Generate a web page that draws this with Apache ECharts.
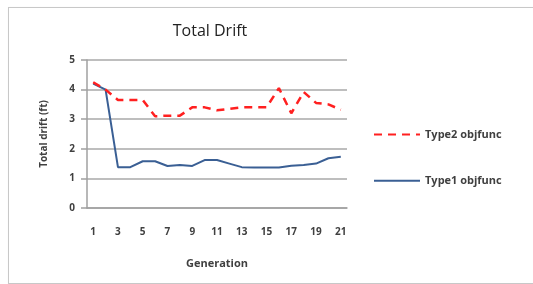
<!DOCTYPE html>
<html>
<head>
<meta charset="utf-8">
<script src="https://cdn.jsdelivr.net/npm/echarts@6/dist/echarts.min.js"></script>
<style>
	html, body {
		margin: 0;
		padding: 0;
		background: #fff;
	}
	.frame {
		position: absolute;
		left: 8px;
		top: 7px;
		width: 540px;
		height: 275px;
		border: 1px solid #c8c8c8;
		box-shadow: 1px 1px 2px rgba(0,0,0,0.15);
	}
	#chart {
		position: absolute;
		left: 0;
		top: 0;
		width: 533px;
		height: 284px;
	}
</style>
</head>
<body>
<div class="frame"></div>
<div id="chart"></div>
<script>
	const generations = ['1', '2', '3', '4', '5', '6', '7', '8', '9', '10', '11',
		'12', '13', '14', '15', '16', '17', '18', '19', '20', '21'];
	const type2Drift = [4.25, 4.0, 3.65, 3.65, 3.65, 3.1, 3.12, 3.12, 3.4, 3.4, 3.3,
		3.35, 3.4, 3.4, 3.4, 4.05, 3.2, 3.92, 3.55, 3.5, 3.32];
	const type1Drift = [4.2, 4.0, 1.38, 1.38, 1.58, 1.58, 1.42, 1.45, 1.42, 1.62, 1.62,
		1.5, 1.38, 1.37, 1.37, 1.37, 1.43, 1.45, 1.5, 1.68, 1.73];
	const yTicks = [0, 1, 2, 3, 4, 5];

	const labelFont = 'Open Sans, Liberation Sans, sans-serif';
	const chart = echarts.init(document.getElementById('chart'));
	chart.setOption({
		animation: false,
		title: {
			text: 'Total Drift',
			left: 205,
			top: 18,
			textAlign: 'center',
			textStyle: {
				fontFamily: labelFont,
				fontSize: 16,
				fontWeight: 'normal',
				color: '#222'
			}
		},
		legend: {
			orient: 'vertical',
			left: 368,
			top: 124,
			itemGap: 35,
			itemWidth: 46,
			itemHeight: 14,
			itemStyle: { opacity: 0 },
			textStyle: {
				fontFamily: labelFont,
				fontSize: 11,
				fontWeight: 'bold',
				color: '#404040'
			},
			data: ['Type2 objfunc', 'Type1 objfunc']
		},
		grid: {
			left: 87,
			right: 186,
			top: 60,
			bottom: 76
		},
		xAxis: {
			type: 'category',
			data: generations,
			boundaryGap: true,
			name: 'Generation',
			nameLocation: 'middle',
			nameGap: 50,
			nameTextStyle: {
				fontFamily: labelFont,
				fontSize: 11,
				fontWeight: 'bold',
				color: '#404040'
			},
			axisLine: { lineStyle: { color: '#a0a0a0', width: 1.5 } },
			axisTick: { show: false },
			axisLabel: {
				interval: 1,
				margin: 19,
				fontFamily: labelFont,
				fontSize: 10,
				fontWeight: 'bold',
				color: '#404040'
			}
		},
		yAxis: {
			type: 'value',
			min: yTicks[0],
			max: yTicks[yTicks.length - 1],
			interval: 1,
			name: 'Total drift (ft)',
			nameLocation: 'middle',
			nameGap: 38,
			nameTextStyle: {
				fontFamily: labelFont,
				fontSize: 10,
				fontWeight: 'bold',
				color: '#404040'
			},
			axisLine: { show: true, lineStyle: { color: '#a0a0a0', width: 1.5 } },
			axisTick: { show: true, length: 6, lineStyle: { color: '#a0a0a0', width: 1.5 } },
			splitLine: { lineStyle: { color: '#a8a8a8', width: 1.5 } },
			axisLabel: {
				margin: 12,
				fontFamily: labelFont,
				fontSize: 10,
				fontWeight: 'bold',
				color: '#404040'
			}
		},
		series: [
			{
				name: 'Type2 objfunc',
				type: 'line',
				data: type2Drift,
				symbol: 'none',
				color: '#ff2020',
				lineStyle: { color: '#ff2020', width: 2.5, type: [8, 6] },
				z: 3
			},
			{
				name: 'Type1 objfunc',
				type: 'line',
				data: type1Drift,
				symbol: 'none',
				color: '#3a5f94',
				lineStyle: { color: '#3a5f94', width: 2 },
				z: 2
			}
		]
	});
</script>
</body>
</html>
